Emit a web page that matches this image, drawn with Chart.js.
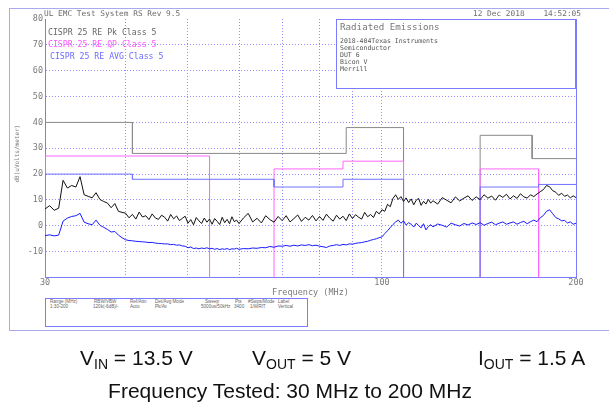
<!DOCTYPE html>
<html>
<head>
<meta charset="utf-8">
<script src="https://cdn.jsdelivr.net/npm/chart.js@4.4.0/dist/chart.umd.min.js"></script>
<style>
  html, body { margin: 0; padding: 0; background: #fff; }
  #wrap { position: relative; width: 609px; height: 415px; overflow: hidden; }
  #frame { position: absolute; left: 9px; top: 8px; width: 700px; height: 323px; box-sizing: border-box; border: 1px solid #a9a9ee; }
  canvas { position: absolute; left: 0; top: 0; }
  .t { position: absolute; white-space: pre; font-family: "DejaVu Sans Mono", monospace; line-height: 1; transform: translateY(-50%); color: #6e6e6e; }
  .box { position: absolute; box-sizing: border-box; border: 1px solid #7b7bff; background: #fff; }
  .small { font-size: 6.5px; color: #555; }
  .tiny { font-family: "Liberation Sans", sans-serif; font-size: 4.6px; color: #666; }
  .cond { position: absolute; font-family: "Liberation Sans", Arial, sans-serif; font-size: 21px; color: #111; white-space: pre; line-height: 1; }
  .cond sub { font-size: 14px; vertical-align: -4px; line-height: 0; }
</style>
</head>
<body>
<div id="wrap">
  <div id="frame"></div>
  <canvas id="chart" width="609" height="415"></canvas>

  <div class="t" style="left:44px; top:14px; font-size:7.8px;">UL EMC Test System RS Rev 9.5</div>
  <div class="t" style="left:473px; top:14px; font-size:7.8px;">12 Dec 2018    14:52:05</div>

  <div class="t" style="left:48px; top:32px; font-size:8.2px; color:#666;">CISPR 25 RE Pk Class 5</div>
  <div class="t" style="left:48px; top:44px; font-size:8.2px; color:#ff55ff;">CISPR 25 RE QP Class 5</div>
  <div class="t" style="left:50px; top:56px; font-size:8.2px; color:#6b6bff;">CISPR 25 RE AVG Class 5</div>

  <div class="box" style="left:336px; top:19px; width:240px; height:70px;"></div>
  <div class="t" style="left:340px; top:27px; font-size:9.2px; color:#777;">Radiated Emissions</div>
  <div class="t small" style="left:340px; top:41px;">2018-404Texas Instruments</div>
  <div class="t small" style="left:340px; top:48px;">Semiconductor</div>
  <div class="t small" style="left:340px; top:54.5px;">DUT 6</div>
  <div class="t small" style="left:340px; top:61.5px;">Bicon V</div>
  <div class="t small" style="left:340px; top:68.5px;">Merrill</div>

  <div class="box" style="left:45px; top:298px; width:263px; height:29px;"></div>
  <div class="t tiny" style="left:50px; top:302px;">Range (MHz)</div>
  <div class="t tiny" style="left:50px; top:307px;">1:30-200</div>
  <div class="t tiny" style="left:94px; top:302px;">RBW/VBW</div>
  <div class="t tiny" style="left:93px; top:307px;">120k(-6dB)/-</div>
  <div class="t tiny" style="left:130px; top:302px;">Ref/Attn</div>
  <div class="t tiny" style="left:130px; top:307px;">Auto</div>
  <div class="t tiny" style="left:155px; top:302px;">Det/Avg Mode</div>
  <div class="t tiny" style="left:155px; top:307px;">Pk/Av</div>
  <div class="t tiny" style="left:205px; top:302px;">Sweep</div>
  <div class="t tiny" style="left:201px; top:307px;">5000us/50kHz</div>
  <div class="t tiny" style="left:235px; top:302px;">Pts</div>
  <div class="t tiny" style="left:234px; top:307px;">3400</div>
  <div class="t tiny" style="left:248px; top:302px;">#Swps/Mode</div>
  <div class="t tiny" style="left:250px; top:307px;">1/WRIT</div>
  <div class="t tiny" style="left:278px; top:302px;">Label</div>
  <div class="t tiny" style="left:278px; top:307px;">Vertical</div>

  <div class="cond" style="left:80px; top:347px;">V<sub>IN</sub> = 13.5 V</div>
  <div class="cond" style="left:252px; top:347px;">V<sub>OUT</sub> = 5 V</div>
  <div class="cond" style="left:478px; top:347px;">I<sub>OUT</sub> = 1.5 A</div>
  <div class="cond" style="left:0; width:580px; text-align:center; top:380px;">Frequency Tested: 30 MHz to 200 MHz</div>
</div>

<script>
// measured sweep, MHz
const freqs = [
  30, 30.5, 31, 31.5, 32, 32.5, 33, 33.5, 34, 34.5,
  35, 35.5, 36, 36.5, 37, 37.5, 38, 38.5, 39, 39.5,
  40, 40.5, 41, 41.5, 42, 42.5, 43, 43.5, 44, 44.5,
  45, 45.5, 46, 46.5, 47, 47.5, 48, 48.5, 49, 49.5,
  50, 50.5, 51, 51.5, 52, 52.5, 53, 53.5, 54, 54.5,
  55, 55.5, 56, 56.5, 57, 57.5, 58, 58.5, 59, 59.5,
  60, 61, 62, 63, 64, 65, 66, 67, 68, 69,
  70, 71, 72, 73, 74, 75, 76, 77, 78, 79,
  80, 81, 82, 83, 84, 85, 86, 87, 88, 89,
  90, 91, 92, 93, 94, 95, 96, 97, 98, 99,
  100, 101, 102, 103, 104, 105, 106, 107, 108, 109,
  110, 111, 112, 113, 114, 115, 116, 117, 118, 119,
  120, 122, 124, 126, 128, 130, 132, 134, 136, 138,
  140, 142, 144, 146, 148, 150, 152, 154, 156, 158,
  160, 162, 164, 166, 168, 170, 172, 174, 176, 178,
  180, 182, 184, 186, 188, 190, 192, 194, 196, 198,
  200
];

// peak detector trace, dBuV/m
const peakTrace = [
  6.5, 7.8, 6.0, 6.8, 17.6, 14.6, 15.6, 15.0, 19.0, 12.0,
  11.4, 10.8, 12.8, 10.2, 9.4, 8.8, 7.0, 8.6, 5.6, 5.2,
  4.9, 3.1, 4.4, 2.6, 5.3, 3.4, 3.9, 2.4, 4.6, 3.0,
  2.5, 4.1, 3.3, 1.8, 4.4, 2.7, 3.8, 2.0, 2.9, 3.7,
  1.0, 2.4, 0.4, 3.2, 1.9, 0.9, 3.0, 1.4, 2.6, 0.6,
  2.8, 1.7, 0.5, 3.3, 1.2, 2.5, 0.8, 3.5, 1.6, 2.2,
  0.9, 3.1, 4.8, 1.5, 2.9, 1.1, 3.9, 2.4, 1.4, 3.6,
  2.0, 3.9, 1.5, 2.8, 4.2, 1.7, 3.3, 2.2, 4.0, 1.9,
  3.6, 2.1, 4.5, 2.9, 1.8, 4.1, 2.6, 3.7, 2.0, 4.6,
  2.8, 4.3, 3.3, 2.6, 5.2, 3.5, 4.4, 3.2, 5.6, 4.6,
  6.2, 5.6, 8.3, 7.4, 10.6, 12.0, 10.2, 11.3, 9.4, 10.8,
  9.0, 10.4, 8.1, 9.9, 10.6, 7.9, 9.5, 8.4, 10.2, 8.8,
  9.7, 8.4, 10.9, 9.9, 8.9, 11.2, 9.6, 10.7, 11.6, 9.8,
  11.2, 10.1, 12.0, 10.7, 11.5, 9.9, 11.9, 11.0, 12.2, 10.4,
  11.6, 10.6, 12.4, 11.2, 10.7, 12.0, 11.3, 12.3, 13.2, 14.0,
  15.6, 15.1, 13.6, 13.0, 11.8, 12.6, 11.4, 11.9, 10.8, 11.6,
  10.9
];

// average detector trace, dBuV/m
const avgTrace = [
  -3.8, -3.5, -3.9, -3.6, 1.8, 3.0, 3.6, 3.9, 4.8, 1.4,
  0.8, 0.4, 2.2, 0.2, -0.6, -1.4, -2.4, -2.2, -3.6, -4.6,
  -5.4, -5.7, -5.8, -6.0, -6.1, -6.2, -6.3, -6.5, -6.4, -6.7,
  -6.8, -6.9, -7.0, -7.0, -7.3, -7.2, -7.5, -7.4, -7.8, -7.9,
  -8.5, -8.2, -8.8, -8.6, -8.9, -8.6, -8.8, -8.5, -8.9, -8.7,
  -9.1, -8.8, -9.2, -8.9, -9.1, -8.8, -9.2, -8.9, -9.0, -8.7,
  -9.1, -8.8, -8.9, -8.6, -8.7, -8.4, -8.5, -8.0, -8.3, -7.8,
  -7.9, -7.6, -7.9, -7.5, -7.8, -7.4, -7.6, -7.3, -7.7, -7.5,
  -7.9, -8.1, -8.4, -7.8, -7.6, -7.3, -7.6, -7.2, -7.4, -7.0,
  -7.1, -6.8, -6.6, -6.5, -6.2, -6.0, -5.6, -5.3, -5.0, -4.6,
  -4.3, -3.0, -1.9, -0.7, 0.5, 1.5, 2.2, 1.0, 1.9, 0.3,
  1.2, 0.6, -0.5, 1.0, 0.1, -0.8, 0.8, -1.6, -0.3, 0.4,
  -0.4, 0.7, 0.2, -0.5, 1.0, 0.4, -0.1, 0.9, 0.3, 1.1,
  0.5, 1.2, 0.2, 0.9, 1.4, 0.4, 1.0, 1.5, 0.6, 1.1,
  1.5, 0.6, 1.3, 1.7, 0.8, 1.6, 2.2, 1.6, 3.1, 4.0,
  5.6, 6.2, 4.7, 3.2, 2.7, 1.9, 2.1, 1.1, 1.5, 0.6,
  1.0
];

// CISPR 25 class 5 limit lines (drop below the axis outside the bands)
const pkLimitFreq = [30, 30, 41, 41, 88, 88, 108, 108, 142, 142, 171, 171, 200];
const pkLimitLevel = [-30, 40, 40, 28, 28, 38, 38, -30, -30, 35, 35, 26, 26];
const qpLimitFreq = [30, 30, 54, 54, 68, 68, 87, 87, 108, 108, 142, 142, 175, 175];
const qpLimitLevel = [-30, 27, 27, -30, -30, 22, 22, 25, 25, -30, -30, 22, 22, -30];
const avgLimitFreq = [30, 30, 41, 41, 68, 68, 87, 87, 108, 108, 142, 142, 175, 175, 200];
const avgLimitLevel = [-30, 20, 20, 18, 18, 15, 15, 18, 18, -30, -30, 15, 15, 16, 16];

const xGridFreqs = [30, 40, 50, 60, 70, 80, 90, 100, 200];
const xTickLabels = [30, 100, 200];

const MONO = "DejaVu Sans Mono";
const AXIS_COLOR = "#7b7bff";
const GRID_COLOR = "#8f8fff";
const TEXT_GRAY = "#7a7a7a";
const NONE = "rgba(0,0,0,0)";

const toPoints = (xs, ys) => xs.map((x, i) => ({ x: x, y: ys[i] }));

// the plot has a right edge line too
const rightBorder = {
  id: "rightBorder",
  beforeDatasetsDraw(chart) {
    const { ctx, chartArea } = chart;
    ctx.save();
    ctx.strokeStyle = AXIS_COLOR;
    ctx.lineWidth = 1;
    ctx.beginPath();
    ctx.moveTo(Math.round(chartArea.right) + 0.5, chartArea.top);
    ctx.lineTo(Math.round(chartArea.right) + 0.5, chartArea.bottom);
    ctx.stroke();
    ctx.restore();
  },
};

const config = {
  type: "line",
  data: {
    datasets: [
      { label: "Pk", data: toPoints(freqs, peakTrace), borderColor: "#111111" },
      { label: "Avg", data: toPoints(freqs, avgTrace), borderColor: "#1a1aff" },
      { label: "CISPR 25 RE AVG Class 5", data: toPoints(avgLimitFreq, avgLimitLevel), borderColor: "#7272ff" },
      { label: "CISPR 25 RE QP Class 5", data: toPoints(qpLimitFreq, qpLimitLevel), borderColor: "#ff66ff" },
      { label: "CISPR 25 RE Pk Class 5", data: toPoints(pkLimitFreq, pkLimitLevel), borderColor: "#8a8a8a" },
    ],
  },
  options: {
    responsive: false,
    animation: false,
    devicePixelRatio: 1,
    layout: { padding: { left: 0, top: 19, right: 33, bottom: 110 } },
    elements: {
      point: { radius: 0 },
      line: { borderWidth: 1, tension: 0, fill: false },
    },
    plugins: {
      legend: { display: false },
      tooltip: { enabled: false },
    },
    scales: {
      x: {
        type: "logarithmic",
        min: 30,
        max: 200,
        afterBuildTicks: (s) => {
          s.ticks = xGridFreqs.map((v) => ({ value: v }));
        },
        afterFit: (s) => {
          s.height = 27.5;
        },
        grid: {
          drawTicks: false,
          color: (c) => (c.tick && (c.tick.value === 30 || c.tick.value === 200) ? NONE : GRID_COLOR),
        },
        border: { display: true, color: AXIS_COLOR, width: 1, dash: [1, 2] },
        ticks: {
          autoSkip: false,
          maxRotation: 0,
          padding: 0,
          color: TEXT_GRAY,
          font: { family: MONO, size: 8.5 },
          callback: (v) => (xTickLabels.includes(v) ? String(v) : ""),
        },
        title: {
          display: true,
          text: "Frequency (MHz)",
          color: TEXT_GRAY,
          font: { family: MONO, size: 8.5 },
          padding: { top: 0, bottom: 7 },
        },
      },
      y: {
        min: -20,
        max: 80,
        afterFit: (s) => {
          s.width = 45;
        },
        grid: {
          drawTicks: false,
          color: (c) => (c.tick && (c.tick.value === 80 || c.tick.value === -20) ? NONE : GRID_COLOR),
        },
        border: { display: true, color: AXIS_COLOR, width: 1, dash: [1, 2] },
        ticks: {
          stepSize: 10,
          padding: 2,
          color: TEXT_GRAY,
          font: { family: MONO, size: 8.5 },
          callback: (v) => (v === -20 ? "" : String(v)),
        },
        title: {
          display: true,
          text: "dB(uVolts/meter)   ",
          color: TEXT_GRAY,
          font: { family: MONO, size: 6 },
          padding: { top: 13.4, bottom: 0 },
        },
      },
    },
  },
  plugins: [rightBorder],
};

new Chart(document.getElementById("chart").getContext("2d"), config);
</script>
</body>
</html>
